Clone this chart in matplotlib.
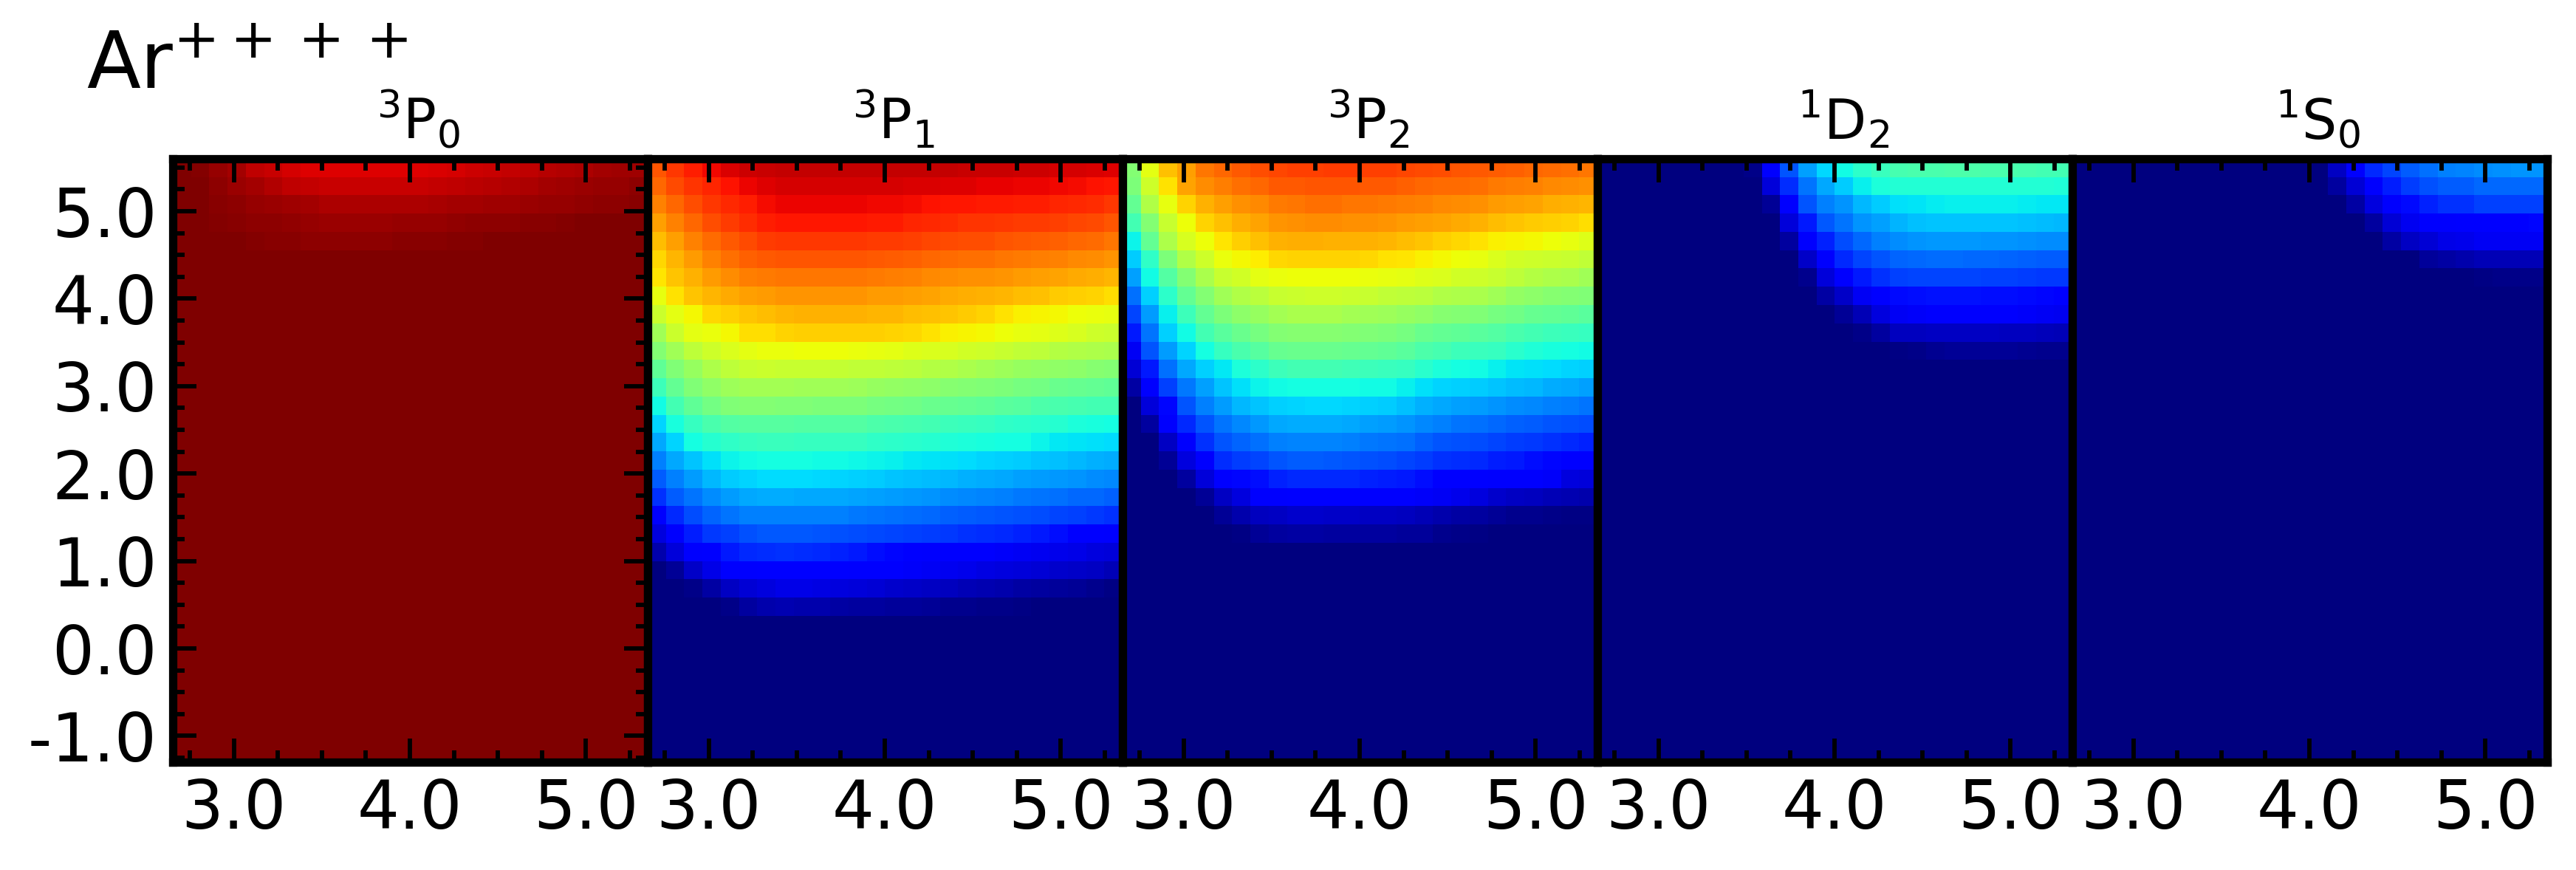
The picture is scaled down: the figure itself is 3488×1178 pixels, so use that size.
import numpy as np
import matplotlib
matplotlib.use("Agg")
import matplotlib.pyplot as plt
from matplotlib.ticker import MultipleLocator, FixedLocator, FixedFormatter

W, H, DPI = 3488, 1178, 300
N_ROWS = 33

titles = [r"$^{3}$P$_{0}$", r"$^{3}$P$_{1}$", r"$^{3}$P$_{2}$", r"$^{1}$D$_{2}$", r"$^{1}$S$_{0}$"]
x_ticks = [3.0, 4.0, 5.0]
x_labels = ["3.0", "4.0", "5.0"]
y_ticks = [-1.0, 0.0, 1.0, 2.0, 3.0, 4.0, 5.0]
y_labels = ["-1.0", "0.0", "1.0", "2.0", "3.0", "4.0", "5.0"]

# values, per mille of the colour range, top row first
p0 = [
 [1000,995,980,965,945,935,925,915,915,915,915,915,915,915,920,925,930,935,940,945,950,955,960,965,970,972],
 [1000,1000,985,975,965,955,945,940,937,935,935,935,935,935,938,942,946,950,955,960,965,970,975,978,980,985],
 [1000,1000,990,985,980,975,970,965,960,960,960,960,960,960,962,965,968,970,972,975,978,980,982,985,988,990],
 [1000,1000,995,992,988,985,982,978,975,975,975,975,978,978,980,982,985,985,988,990,992,995,998,1000,1000,1000],
 [1000,1000,1000,998,995,992,990,988,988,988,988,988,990,990,992,995,995,998,998,1000,1000,1000,1000,1000,1000,1000],
 [1000,1000,1000,1000,1000,998,998,997,997,997,997,997,998,998,998,1000,1000,1000,1000,1000,1000,1000,1000,1000,1000,1000],
] + [[1000] * 26] * 27

p1 = [
 [820,850,875,900,920,930,935,940,940,940,940,940,940,940,940,940,940,935,935,935,930,930,925,925,920,915],
 [800,830,855,870,890,905,915,925,925,925,925,925,925,925,920,920,915,915,910,910,905,905,900,895,890,885],
 [770,800,825,850,865,875,895,905,905,905,905,905,900,900,895,890,885,885,880,880,875,875,870,865,860,850],
 [740,770,800,825,845,860,875,885,885,885,885,885,880,880,870,865,860,855,855,850,845,845,840,835,830,820],
 [710,740,770,795,815,830,845,850,850,850,850,850,845,845,840,835,830,825,825,820,815,810,805,800,795,785],
 [680,715,745,770,790,805,815,820,820,820,820,820,815,810,805,800,795,790,790,785,780,775,770,765,760,750],
 [665,700,720,745,760,775,780,785,785,785,785,785,780,775,770,765,760,755,755,750,745,740,735,730,725,715],
 [630,670,700,715,730,740,745,750,750,750,750,750,745,745,740,735,730,725,720,715,710,705,695,690,685,675],
 [595,625,645,680,690,700,710,715,720,720,720,720,715,715,710,705,700,695,685,670,655,650,645,640,635,630],
 [545,595,625,635,648,672,675,685,690,690,690,690,690,685,680,670,655,650,645,640,630,625,620,610,600,595],
 [508,545,580,600,615,625,635,636,640,640,640,636,630,625,620,615,610,605,600,590,585,580,570,565,560,555],
 [465,505,535,560,580,590,595,590,590,590,587,585,585,580,575,570,565,555,550,540,535,530,525,520,515,510],
 [425,470,505,525,540,550,550,550,545,545,545,540,535,530,525,520,515,510,505,500,495,490,480,475,470,465],
 [372,430,465,490,505,510,510,505,505,502,502,500,495,490,485,480,475,470,465,460,455,445,440,435,430,430],
 [335,380,415,440,450,455,455,455,453,453,450,450,445,440,435,430,425,420,415,410,405,400,395,385,380,375],
 [292,335,375,395,410,415,420,420,417,417,415,415,410,405,400,395,390,385,380,378,375,365,355,350,345,342],
 [250,290,320,345,365,372,376,376,376,374,374,370,365,360,355,350,345,340,335,330,325,320,315,305,300,295],
 [215,250,280,305,325,335,340,340,340,336,335,330,325,320,315,312,305,300,295,290,285,280,275,270,262,258],
 [172,215,240,265,280,290,295,295,292,292,290,288,285,280,275,270,265,260,255,250,245,240,235,230,228,222],
 [110,165,200,225,240,250,252,252,252,250,250,245,240,238,232,228,222,218,212,208,204,200,195,190,180,174],
 [85,110,155,180,190,205,213,213,213,210,205,200,198,195,190,185,180,175,170,165,160,150,140,125,115,110],
 [40,80,110,120,150,165,170,172,170,165,160,150,140,130,120,112,110,110,110,108,105,100,95,92,85,80],
 [0,20,65,90,110,112,115,118,118,118,115,112,110,110,108,105,100,95,88,85,80,75,70,65,60,50],
 [0,0,10,35,60,75,85,90,90,88,85,80,75,70,65,60,55,50,45,40,35,30,25,20,12,5],
 [0,0,0,0,10,30,40,45,40,40,35,30,30,25,25,20,15,12,10,8,5,3,2,0,0,0],
]

p2 = [
 [508,625,705,740,785,800,815,825,835,840,840,845,845,840,840,835,830,825,820,815,810,805,800,795,790,785],
 [500,600,670,735,760,775,790,800,815,815,820,820,820,815,815,805,800,795,795,790,780,775,770,765,760,755],
 [470,565,630,685,720,740,755,765,780,785,790,790,785,785,780,775,770,765,760,755,745,740,735,725,720,715],
 [430,510,590,640,685,705,725,735,750,755,760,760,755,755,750,745,740,735,730,720,710,700,695,690,685,675],
 [365,470,560,610,640,665,690,705,720,725,725,720,720,720,715,710,700,690,680,670,655,650,645,640,630,620],
 [325,410,500,565,600,635,645,660,680,685,685,685,685,680,670,665,655,648,640,630,615,605,600,595,590,585],
 [282,372,450,510,555,590,605,625,635,640,640,640,640,635,630,625,620,615,605,600,590,580,570,560,555,545],
 [235,330,405,470,510,545,565,575,590,595,600,600,595,590,585,580,575,565,560,555,545,530,520,515,510,505],
 [195,280,360,425,470,500,520,535,550,555,555,555,550,545,540,535,525,515,510,505,495,485,475,470,465,460],
 [150,240,330,372,430,460,480,495,508,515,515,515,510,505,500,495,480,470,465,460,450,440,430,425,420,415],
 [105,210,280,335,375,415,440,455,475,480,480,480,475,470,465,460,445,435,425,420,415,400,390,380,376,372],
 [75,150,235,290,330,355,385,405,425,430,430,430,428,425,420,415,400,385,378,372,360,350,345,340,335,330],
 [35,110,190,245,285,320,345,365,374,376,376,376,375,374,372,360,345,335,330,325,320,312,305,295,290,285],
 [0,80,130,210,250,280,305,320,330,335,336,336,335,330,325,315,300,292,285,280,272,265,258,252,248,240],
 [0,30,110,165,210,240,260,275,290,295,295,295,290,285,280,270,260,250,240,235,228,222,215,210,205,200],
 [0,0,60,110,175,210,225,235,250,255,255,255,250,245,240,235,220,210,205,200,195,185,180,175,165,160],
 [0,0,20,85,110,170,185,195,210,215,215,213,210,205,200,195,185,175,170,165,155,150,140,130,120,112],
 [0,0,0,30,80,115,130,140,160,165,165,165,165,160,155,150,140,125,118,115,112,110,110,108,85,80],
 [0,0,0,0,20,60,85,112,112,115,118,118,115,112,112,110,108,105,95,85,70,60,55,50,45,40],
 [0,0,0,0,0,20,40,55,62,68,68,65,65,62,60,55,50,40,35,30,20,15,12,8,5,5],
 [0,0,0,0,0,0,5,20,30,32,32,30,30,28,28,25,25,15,8,5,0,0,0,0,0,0],
]

p3 = [
 [0]*8  + [10,110,210,282,336,374,405,420,435,440,440,442,442,440,438,435,432,430],
 [0]*9  + [80,170,240,290,325,360,385,393,393,393,393,393,393,393,393,393,390],
 [0]*9  + [20,115,210,250,270,305,325,345,350,358,360,362,362,360,358,355,352],
 [0]*10 + [80,150,212,240,270,285,302,315,318,320,320,320,318,315,310,305],
 [0]*10 + [30,110,160,200,228,250,262,272,275,275,275,272,270,268,265,262],
 [0]*11 + [65,112,165,195,210,225,230,232,232,230,228,225,222,218,215],
 [0]*11 + [15,80,115,150,172,190,192,195,195,192,190,188,185,182,180],
 [0]*12 + [35,65,105,115,135,140,142,142,142,140,138,135,130,128],
 [0]*13 + [20,50,85,105,108,110,110,110,110,110,108,105,100],
 [0]*14 + [10,30,55,58,60,60,60,60,58,55,52,50],
 [0]*16 + [5,10,18,20,22,22,20,18,15,12],
]

p4 = [
 [0]*14 + [60,110,165,195,215,235,250,255,262,268,270,270],
 [0]*14 + [30,75,110,155,185,205,215,218,228,228,228,228],
 [0]*15 + [35,85,110,135,160,172,175,190,190,190,190],
 [0]*16 + [30,75,100,110,112,115,122,125,128,130],
 [0]*17 + [35,60,75,90,95,105,105,105,105],
 [0]*19 + [25,35,40,50,50,50,50],
 [0]*20 + [3,3,5,8,10,10],
]
panels = [p0, p1, p2, p3, p4]

plt.rcParams["font.family"] = "DejaVu Sans"
plt.rcParams["mathtext.default"] = "regular"
fig = plt.figure(figsize=(W / DPI, H / DPI), dpi=DPI, facecolor="white")

left, right, top, bottom = 233.5, 3448.5, 215.0, 1032.0
pw = (right - left) / 5
for i, (rows, title) in enumerate(zip(panels, titles)):
    ax = fig.add_axes([(left + i * pw) / W, 1 - bottom / H, pw / W, (bottom - top) / H])
    arr = np.zeros((N_ROWS, 26))
    arr[:len(rows)] = np.array(rows, dtype=float) / 1000
    ax.imshow(arr, cmap="jet", vmin=0, vmax=1, aspect="auto", interpolation="nearest",
              extent=(2.65, 5.35, -1.3, 5.6), origin="upper")
    ax.set_xlim(2.65, 5.35)
    ax.set_ylim(-1.3, 5.6)
    ax.xaxis.set_major_locator(FixedLocator(x_ticks))
    ax.xaxis.set_major_formatter(FixedFormatter(x_labels))
    ax.xaxis.set_minor_locator(MultipleLocator(0.25))
    ax.tick_params(axis="x", which="both", direction="in", top=True, bottom=True, color="black")
    ax.tick_params(axis="x", which="major", length=7.7, width=1.4, labelsize=21.5, pad=5)
    ax.tick_params(axis="x", which="minor", length=3.9, width=1.4)
    if i == 0:
        ax.yaxis.set_major_locator(FixedLocator(y_ticks))
        ax.yaxis.set_major_formatter(FixedFormatter(y_labels))
        ax.yaxis.set_minor_locator(MultipleLocator(0.25))
        ax.tick_params(axis="y", which="both", direction="in", left=True, right=True)
        ax.tick_params(axis="y", which="major", length=7.7, width=1.4, labelsize=21.5, pad=5)
        ax.tick_params(axis="y", which="minor", length=3.9, width=1.4)
    else:
        ax.set_yticks([])
    for s in ax.spines.values():
        s.set_linewidth(2.7)
    ax.set_title(title, fontsize=17.9, pad=6.4, x=0.5 + 12 / pw)

fig.text(117 / W, 1 - 120 / H, r"Ar$^{++++}$", fontsize=25.6, ha="left", va="baseline")
fig.savefig("out.png", dpi=DPI)
